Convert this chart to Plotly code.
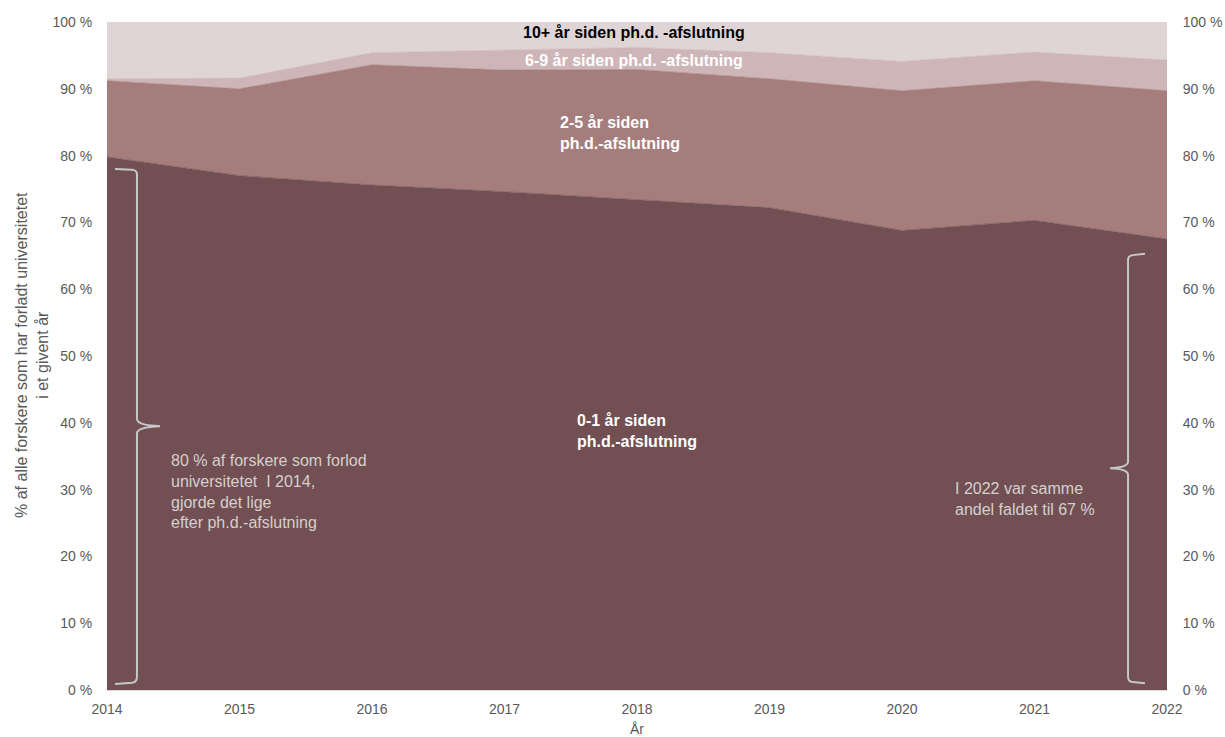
import plotly.graph_objects as go

years = [2014, 2015, 2016, 2017, 2018, 2019, 2020, 2021, 2022]
s_0_1 = [79.8, 77.0, 75.6, 74.6, 73.4, 72.2, 68.8, 70.3, 67.5]
s_2_5 = [11.4, 13.0, 18.0, 18.2, 19.5, 19.3, 20.9, 20.9, 22.2]
s_6_9 = [0.3, 1.6, 1.8, 3.0, 3.3, 3.9, 4.4, 4.3, 4.6]
s_10p = [8.5, 8.4, 4.6, 4.2, 3.8, 4.6, 5.9, 4.5, 5.7]
series_names = ["0-1 år siden ph.d.-afslutning", "2-5 år siden ph.d.-afslutning",
                "6-9 år siden ph.d.-afslutning", "10+ år siden ph.d.-afslutning"]
colors = ["#714f52", "#a57d7c", "#ceb5b7", "#e0d5d6"]
y_ticks = [0, 10, 20, 30, 40, 50, 60, 70, 80, 90, 100]
y_tick_text = [f"{v} %" for v in y_ticks]

FONT = "Arial, Liberation Sans, sans-serif"
GRAY = "#595959"

fig = go.Figure()
for name, vals, col in zip(series_names, [s_0_1, s_2_5, s_6_9, s_10p], colors):
    fig.add_trace(go.Scatter(
        x=years, y=vals, name=name, stackgroup="one", mode="lines",
        line=dict(width=0.6, color=col), fillcolor=col, hoverinfo="x+y+name"))

# invisible trace for right axis
fig.add_trace(go.Scatter(x=[years[0]], y=[0], yaxis="y2", mode="markers",
                         marker=dict(opacity=0), showlegend=False, hoverinfo="skip"))

fig.update_layout(
    width=1225, height=737,
    margin=dict(l=107, r=58, t=22, b=47),
    plot_bgcolor="white", paper_bgcolor="white",
    showlegend=False,
    font=dict(family=FONT, size=14, color=GRAY),
    xaxis=dict(range=[2014, 2022], tickmode="array", tickvals=years,
               ticktext=[str(y) for y in years], showgrid=False, zeroline=False,
               showline=True, linecolor="#d9d9d9", linewidth=1, automargin=False,
               ticks="outside", ticklen=6, tickcolor="rgba(0,0,0,0)",
               tickfont=dict(size=14, color=GRAY),
               title=dict(text="År", font=dict(size=14, color=GRAY), standoff=8)),
    yaxis=dict(range=[0, 100], tickmode="array", tickvals=y_ticks,
               ticktext=y_tick_text, showgrid=False, zeroline=False, automargin=False,
               ticks="outside", ticklen=11, tickcolor="rgba(0,0,0,0)",
               tickfont=dict(size=14, color=GRAY)),
    yaxis2=dict(range=[0, 100], tickmode="array", tickvals=y_ticks,
                ticktext=y_tick_text, overlaying="y", side="right", showgrid=False,
                automargin=False,
                zeroline=False, ticks="outside", ticklen=12, tickcolor="rgba(0,0,0,0)",
                tickfont=dict(size=14, color=GRAY)),
)

# y-axis title
fig.add_annotation(xref="paper", yref="paper", x=-0.0708, y=0.5015,
                   text="% af alle forskere som har forladt universitetet<br>i et givent år",
                   textangle=-90, showarrow=False, xanchor="center", yanchor="middle",
                   align="center", font=dict(size=16, color=GRAY))

# series labels
fig.add_annotation(x=2017.98, y=98.5, text="<b>10+ år siden ph.d. -afslutning</b>",
                   showarrow=False, font=dict(size=16, color="#000000"))
fig.add_annotation(x=2017.98, y=94.2, text="<b>6-9 år siden ph.d. -afslutning</b>",
                   showarrow=False, font=dict(size=16, color="#ffffff"))
fig.add_annotation(x=2017.40, y=83.4, text="<b>2-5 år siden<br>ph.d.-afslutning</b>",
                   showarrow=False, xanchor="left", align="left",
                   font=dict(size=16, color="#ffffff"))
fig.add_annotation(x=2017.535, y=38.8, text="<b>0-1 år siden<br>ph.d.-afslutning</b>",
                   showarrow=False, xanchor="left", align="left",
                   font=dict(size=16, color="#ffffff"))

ANN = "#d6cfcf"
fig.add_annotation(x=2014.465, y=36.0,
                   text="80 % af forskere som forlod<br>universitetet  I 2014,<br>gjorde det lige<br>efter ph.d.-afslutning",
                   showarrow=False, xanchor="left", yanchor="top", align="left",
                   font=dict(size=16, color=ANN))
fig.add_annotation(x=2020.388, y=31.8,
                   text="I 2022 var samme<br>andel faldet til 67 %",
                   showarrow=False, xanchor="left", yanchor="top", align="left",
                   font=dict(size=16, color=ANN))

BR = "#c8c8c8"
left_brace = ("M 2014.06 78.0 L 2014.19 77.9 Q 2014.226 77.8 2014.226 77.2 "
              "L 2014.226 40.6 Q 2014.226 39.6 2014.40 39.5 "
              "Q 2014.226 39.4 2014.226 38.4 L 2014.226 2.0 "
              "Q 2014.226 1.2 2014.19 1.1 L 2014.06 0.9")
right_brace = ("M 2021.834 65.3 L 2021.74 65.1 Q 2021.706 65.0 2021.706 64.4 "
               "L 2021.706 34.2 Q 2021.706 33.3 2021.57 33.2 "
               "Q 2021.706 33.1 2021.706 32.2 L 2021.706 2.0 "
               "Q 2021.706 1.3 2021.74 1.2 L 2021.834 1.0")
for p in (left_brace, right_brace):
    fig.add_shape(type="path", path=p, xref="x", yref="y",
                  line=dict(color=BR, width=2))

fig.write_html("out.html")
